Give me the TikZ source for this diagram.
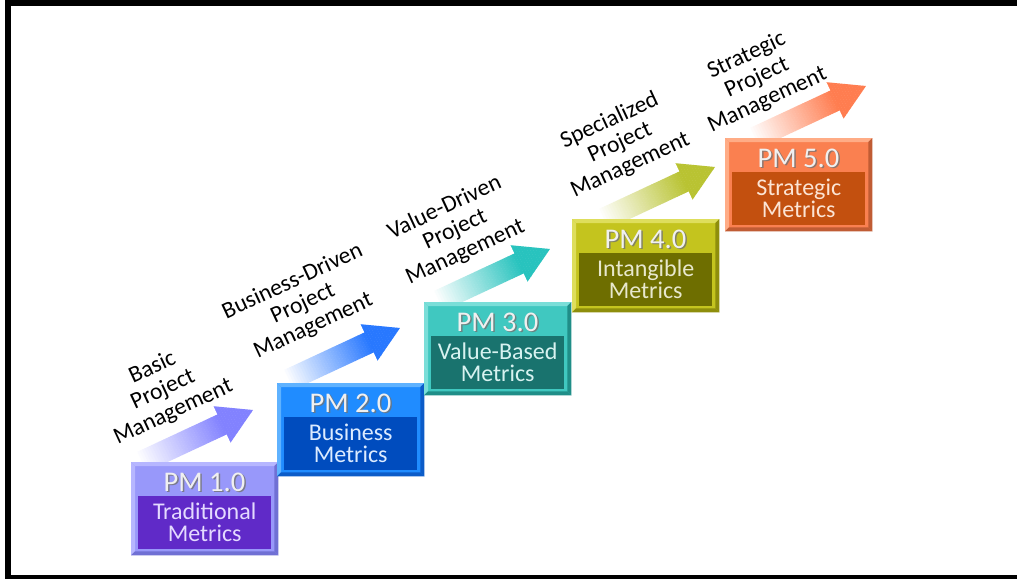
\documentclass[tikz,border=0pt]{standalone}
\usepackage{fontspec}
\setmainfont{Carlito}
\definecolor{o1}{RGB}{152,152,250}\definecolor{l1}{RGB}{182,182,255}\definecolor{d1}{RGB}{112,112,212}\definecolor{i1}{RGB}{96,42,200}\definecolor{t1}{RGB}{228,218,255}\definecolor{a1}{RGB}{130,130,255}
\definecolor{o2}{RGB}{32,140,255}\definecolor{l2}{RGB}{95,178,255}\definecolor{d2}{RGB}{12,92,200}\definecolor{i2}{RGB}{0,76,190}\definecolor{t2}{RGB}{220,235,255}\definecolor{a2}{RGB}{40,120,255}
\definecolor{o3}{RGB}{64,200,192}\definecolor{l3}{RGB}{122,222,216}\definecolor{d3}{RGB}{32,142,136}\definecolor{i3}{RGB}{25,115,110}\definecolor{t3}{RGB}{215,242,240}\definecolor{a3}{RGB}{40,195,190}
\definecolor{o4}{RGB}{196,196,30}\definecolor{l4}{RGB}{222,222,92}\definecolor{d4}{RGB}{142,142,12}\definecolor{i4}{RGB}{110,110,0}\definecolor{t4}{RGB}{232,232,205}\definecolor{a4}{RGB}{185,195,50}
\definecolor{o5}{RGB}{250,128,80}\definecolor{l5}{RGB}{255,172,134}\definecolor{d5}{RGB}{192,92,52}\definecolor{i5}{RGB}{195,80,15}\definecolor{t5}{RGB}{252,228,212}\definecolor{a5}{RGB}{255,125,80}
\tikzset{
  outerbox/.style={minimum width=147pt, minimum height=93pt, inner sep=0pt, anchor=north west},
  innerbox/.style={minimum width=133pt, minimum height=53pt, inner sep=0pt, anchor=north west, align=center, font=\fontsize{24}{22}\selectfont},
  titletext/.style={font=\fontsize{28.5}{30}\selectfont, anchor=base, inner sep=0pt},
  steplabel/.style={rotate=25, align=center, font=\fontsize{23.5}{24.5}\selectfont, inner sep=0pt}
}
\newcommand\stepArrow[3]{%
  \coordinate (#1) at #2;
  \begin{scope}[shift={(#1)}, rotate=25]
    \clip (0,0) -- (-34,20) -- (-34,11) -- (-125,11) -- (-125,-11) -- (-34,-11) -- (-34,-20) -- cycle;
    \foreach \i in {0,...,47}{%
      \pgfmathsetmacro\p{min(100,\i*2.9)}%
      \fill[#3!\p!white] ({-125+\i*2.6},-21) rectangle ({-125+\i*2.6+2.9},21);
    }
  \end{scope}}
\newcommand\pmbox[5]{%
  \node[outerbox, fill=o#1] (box#1) at (#2,#3) {};
  \fill[l#1] (box#1.north west) -- (box#1.north east) -- ([shift={(-4,4)}]box#1.north east) -- ([shift={(4,4)}]box#1.north west) -- cycle;
  \fill[l#1] (box#1.north west) -- (box#1.south west) -- ([shift={(4,-4)}]box#1.south west) -- ([shift={(4,4)}]box#1.north west) -- cycle;
  \fill[d#1] (box#1.north east) -- (box#1.south east) -- ([shift={(-4,-4)}]box#1.south east) -- ([shift={(-4,4)}]box#1.north east) -- cycle;
  \fill[d#1] (box#1.south west) -- (box#1.south east) -- ([shift={(-4,-4)}]box#1.south east) -- ([shift={(4,-4)}]box#1.south west) -- cycle;
  \node[innerbox, fill=i#1, text=t#1] (in#1) at ([shift={(7,34)}]box#1.north west) {#5};
  \node[titletext, text=black!55, opacity=0.8] at ([shift={(75,30.5)}]box#1.north west) {#4};
  \node[titletext, text=white!94!black] (title#1) at ([shift={(73.5,29)}]box#1.north west) {#4};
}
\begin{document}
\begin{tikzpicture}[x=1pt,y=-1pt]
\useasboundingbox (0,0) rectangle (1017,579);
\fill[white] (0,0) rectangle (1017,579);
% frame
\fill[black] (5,0) rectangle (1017,6);
\fill[black] (5,0) rectangle (11,579);
\fill[black] (5,575) rectangle (1017,579);
% arrows
\stepArrow{tip1}{(253,410)}{a1}
\stepArrow{tip2}{(400,328)}{a2}
\stepArrow{tip3}{(550,249)}{a3}
\stepArrow{tip4}{(715,167)}{a4}
\stepArrow{tip5}{(866,86)}{a5}
% labels
\node[steplabel] (lab1) at (163,390) {Basic\\Project\\Management};
\node[steplabel] (lab2) at (303,304) {Business-Driven\\Project\\Management};
\node[steplabel] (lab3) at (455,230) {Value-Driven\\Project\\Management};
\node[steplabel] (lab4) at (620,143) {Specialized\\Project\\Management};
\node[steplabel] (lab5) at (757,78) {Strategic\\Project\\Management};
% boxes
\pmbox{1}{131}{462}{PM 1.0}{Traditional\\Metrics}
\pmbox{2}{277}{383}{PM 2.0}{Business\\Metrics}
\pmbox{3}{424}{302}{PM 3.0}{Value-Based\\Metrics}
\pmbox{4}{572}{219}{PM 4.0}{Intangible\\Metrics}
\pmbox{5}{725}{138}{PM 5.0}{Strategic\\Metrics}
\end{tikzpicture}
\end{document}
